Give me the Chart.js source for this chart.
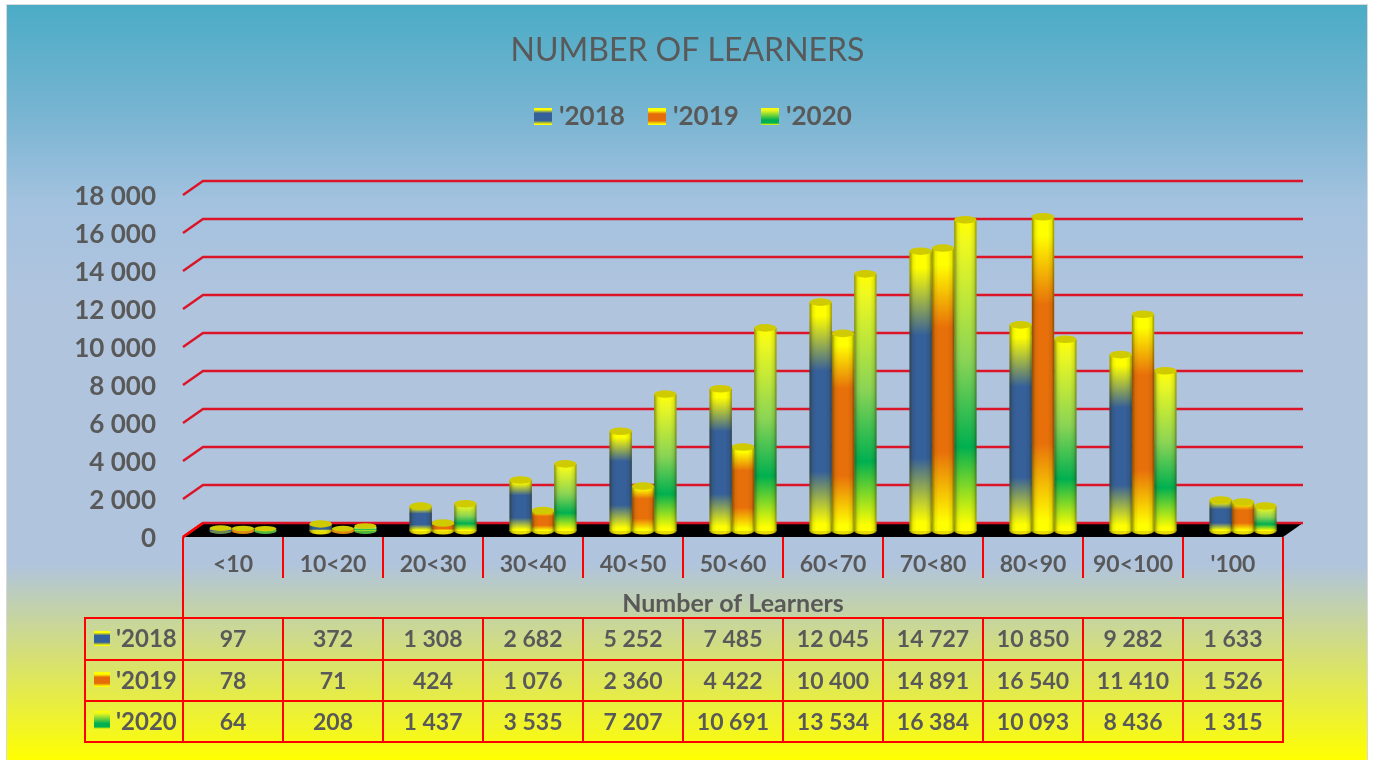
<!DOCTYPE html>
<html><head><meta charset="utf-8">
<style>html,body{margin:0;padding:0;background:#fff}canvas{display:block}</style>
<script src="https://cdn.jsdelivr.net/npm/chart.js@4"></script>
</head><body>
<div style="position:relative;width:1375px;height:760px"><canvas id="c" width="1375" height="760"></canvas></div>
<script>
const categories = ['<10','10<20','20<30','30<40','40<50','50<60','60<70','70<80','80<90','90<100',"'100"];
const seriesNames = ["'2018","'2019","'2020"];
const values2018 = [97,372,1308,2682,5252,7485,12045,14727,10850,9282,1633];
const values2019 = [78,71,424,1076,2360,4422,10400,14891,16540,11410,1526];
const values2020 = [64,208,1437,3535,7207,10691,13534,16384,10093,8436,1315];
const tickValues = [0,2000,4000,6000,8000,10000,12000,14000,16000,18000];
const chartTitle = 'NUMBER OF LEARNERS';
const axisTitle = 'Number of Learners';

const FONT = 'Lato, Carlito, sans-serif';
const INK = '#595959', RED = '#ff0000', GRID = '#dc1428';
const Y = '#ffff00';
const ramps = [
  [[0,Y],[0.06,Y],[0.3,'#36609a'],[0.74,'#36609a'],[0.97,Y],[1,Y]],
  [[0,Y],[0.06,Y],[0.28,'#e8700a'],[0.72,'#e8700a'],[0.97,Y],[1,Y]],
  [[0,Y],[0.08,'#eef820'],[0.45,'#8ad455'],[0.73,'#00b050'],[0.98,Y],[1,Y]]
];
const swatchRamps = [
  [[0,Y],[0.1,Y],[0.3,'#36609a'],[0.75,'#36609a'],[0.95,Y],[1,Y]],
  [[0,Y],[0.15,Y],[0.35,'#e46c0a'],[0.75,'#e46c0a'],[0.95,Y],[1,Y]],
  [[0,Y],[0.15,'#e6f520'],[0.7,'#00b050'],[0.88,'#00b050'],[1,Y]]
];
const tints = ['#6a8a50','#e08a10','#50b840'];
const fmt = v => String(v).replace(/\B(?=(\d{3})+$)/g,' ');

function vGrad(ctx, y0, y1, stops){
  const g = ctx.createLinearGradient(0,y0,0,y1);
  stops.forEach(s=>g.addColorStop(s[0],s[1]));
  return g;
}
const DX = 20, DY = 14;
const BX = 10, BY = 6;

const scene = {
  id:'scene',
  afterLayout(chart){
    chart.titleBlock.left=0; chart.titleBlock.right=chart.width;
  },
  beforeDraw(chart){
    const c = chart.ctx;
    c.save();
    c.fillStyle='#fff'; c.fillRect(0,0,1375,760);
    const g=c.createLinearGradient(0,5,0,760);
    g.addColorStop(0,'#4bacc6'); g.addColorStop(0.15,'#7ab5d2'); g.addColorStop(0.26,'#a3c2df'); g.addColorStop(0.39,'#b0c4de'); g.addColorStop(0.74,'#b0c4de'); g.addColorStop(1,'#ffff00');
    c.fillStyle=g; c.fillRect(7,5,1360,755);
    c.strokeStyle='#d9d9d9'; c.lineWidth=1; c.strokeRect(6.5,4.5,1361,760);
    c.restore();
  },
  beforeDatasetsDraw(chart){
    const c=chart.ctx, ya=chart.scales.y, a=chart.chartArea;
    c.save();
    const y0=ya.getPixelForValue(0);
    c.fillStyle='#000';
    c.beginPath(); c.moveTo(a.left,y0); c.lineTo(a.right,y0); c.lineTo(a.right+DX,y0-DY); c.lineTo(a.left+DX,y0-DY); c.closePath(); c.fill();
    c.lineWidth=2.4; c.strokeStyle=GRID; c.lineJoin='miter';
    tickValues.forEach(v=>{
      const y=ya.getPixelForValue(v);
      c.beginPath(); c.moveTo(a.left,y); c.lineTo(a.left+DX,y-DY); c.lineTo(a.right+DX,y-DY); c.stroke();
    });
    c.strokeStyle=RED;
    c.beginPath(); c.moveTo(a.left,y0); c.lineTo(a.left+DX,y0-DY); c.stroke();
    c.restore();
    c.save(); c.translate(BX,-BY);
  },
  beforeDatasetDraw(chart,args){
    const c=chart.ctx;
    args.meta.data.forEach(el=>{
      const small = el.base-el.y<4;
      c.fillStyle= small ? tints[args.index] : '#e8dc00';
      c.beginPath(); c.ellipse(el.x,small?el.base:el.base,el.width/2,small?3:3.5,0,0,Math.PI*2); c.fill();
    });
  },
  afterDatasetDraw(chart,args){
    const c=chart.ctx;
    args.meta.data.forEach(el=>{
      const r=el.width/2, x0=el.x-r, x1=el.x+r;
      const small = el.base-el.y<4;
      const h=c.createLinearGradient(x0,0,x1,0);
      h.addColorStop(0,'rgba(40,40,0,.5)'); h.addColorStop(0.16,'rgba(40,40,0,.08)'); h.addColorStop(0.3,'rgba(0,0,0,0)');
      h.addColorStop(0.72,'rgba(0,0,0,0)'); h.addColorStop(0.88,'rgba(40,40,0,.1)'); h.addColorStop(1,'rgba(40,40,0,.5)');
      if(!small){
        c.fillStyle=h;
        c.beginPath(); c.moveTo(x0,el.y); c.lineTo(x0,el.base); c.ellipse(el.x,el.base,r,3.5,0,Math.PI,0,true); c.lineTo(x1,el.y); c.closePath(); c.fill();
      }
      c.fillStyle= '#cfcb00';
      c.beginPath(); c.ellipse(el.x,small?el.y-1:el.y,r,small?2.8:3.8,0,0,Math.PI*2); c.fill();
    });
  },
  afterDatasetsDraw(chart){
    chart.ctx.restore();
    drawLegendAndTable(chart);
  }
};

function swatch(c,x,y,w,h,i){
  c.fillStyle=vGrad(c,y,y+h,swatchRamps[i]);
  c.fillRect(x,y,w,h);
}
function drawLegendAndTable(chart){
  const c=chart.ctx, xa=chart.scales.x, a=chart.chartArea;
  c.save();
  c.textBaseline='middle'; c.fillStyle=INK;
  const lx=[534,648,761];
  seriesNames.forEach((n,i)=>{
    swatch(c,lx[i],108,18,17,i);
    c.fillStyle=INK; c.textAlign='left'; c.font='bold 26px '+FONT;
    c.fillText(n,lx[i]+25,117);
  });
  const rows=[618,660,701,742], L=85, step=xa.width/categories.length;
  c.strokeStyle=RED; c.lineWidth=2;
  rows.forEach(y=>{c.beginPath();c.moveTo(L,y);c.lineTo(a.right,y);c.stroke();});
  c.beginPath(); c.moveTo(L,rows[0]-1); c.lineTo(L,rows[3]+1); c.stroke();
  for(let i=0;i<=categories.length;i++){
    const x=a.left+i*step;
    c.beginPath(); c.moveTo(x,(i===0||i===categories.length)?a.bottom:rows[0]); c.lineTo(x,rows[3]+1); c.stroke();
  }
  const data=[values2018,values2019,values2020];
  const textY=[640,682,723], swY=[631,672,711];
  data.forEach((vals,r)=>{
    swatch(c,94,swY[r],16,15+(r==2?3:0),r);
    c.fillStyle=INK; c.textAlign='left'; c.font='bold 24px '+FONT;
    c.fillText(seriesNames[r],116,textY[r]-1);
    c.textAlign='center'; c.font='bold 23px '+FONT;
    vals.forEach((v,i)=>c.fillText(fmt(v),xa.getPixelForValue(i),textY[r]));
  });
  c.restore();
}

new Chart(document.getElementById('c'),{
  type:'bar',
  plugins:[scene],
  data:{labels:categories,datasets:[values2018,values2019,values2020].map((d,i)=>({
    label:seriesNames[i],data:d,borderWidth:0,
    categoryPercentage:0.67,barPercentage:1,
    backgroundColor(ctx){
      if(ctx.type!=='data'||!ctx.chart.chartArea) return ramps[i][2][1];
      const s=ctx.chart.scales.y;
      return vGrad(ctx.chart.ctx,s.getPixelForValue(ctx.parsed.y),s.getPixelForValue(0),ramps[i]);
    }
  }))},
  options:{
    responsive:false,animation:false,events:[],
    layout:{padding:{left:0,right:92,top:0,bottom:0}},
    plugins:{
      legend:{display:false},tooltip:{enabled:false},
      title:{display:true,text:chartTitle,color:INK,
        font:{family:FONT,size:32,weight:'normal',lineHeight:1.2},
        padding:{top:31.8,bottom:124.8}}
    },
    scales:{
      x:{
        afterFit(s){s.height=223;},
        border:{display:false},
        grid:{drawOnChartArea:false,drawTicks:true,tickLength:41,color:RED,lineWidth:2,offset:true},
        ticks:{color:INK,font:{family:FONT,size:23,weight:'bold'},padding:-27,autoSkip:false,maxRotation:0},
        title:{display:true,text:axisTitle,color:INK,font:{family:FONT,size:25,weight:'bold',lineHeight:1.2},padding:{top:0,bottom:141}}
      },
      y:{
        min:0,max:18000,
        afterFit(s){s.width=183;},
        afterBuildTicks(s){s.ticks=tickValues.map(v=>({value:v}));},
        afterUpdate(s){
          if(s._nudged) return; s._nudged=true;
          const d=s.drawLabels.bind(s);
          s.drawLabels=function(area){s.ctx.save();s.ctx.translate(0,2);d(area);s.ctx.restore();};
        },
        border:{display:false},
        grid:{display:false,drawTicks:false},
        ticks:{color:INK,font:{family:FONT,size:26,weight:'bold'},padding:27,callback:v=>fmt(v)}
      }
    }
  }
});
</script>
</body></html>
